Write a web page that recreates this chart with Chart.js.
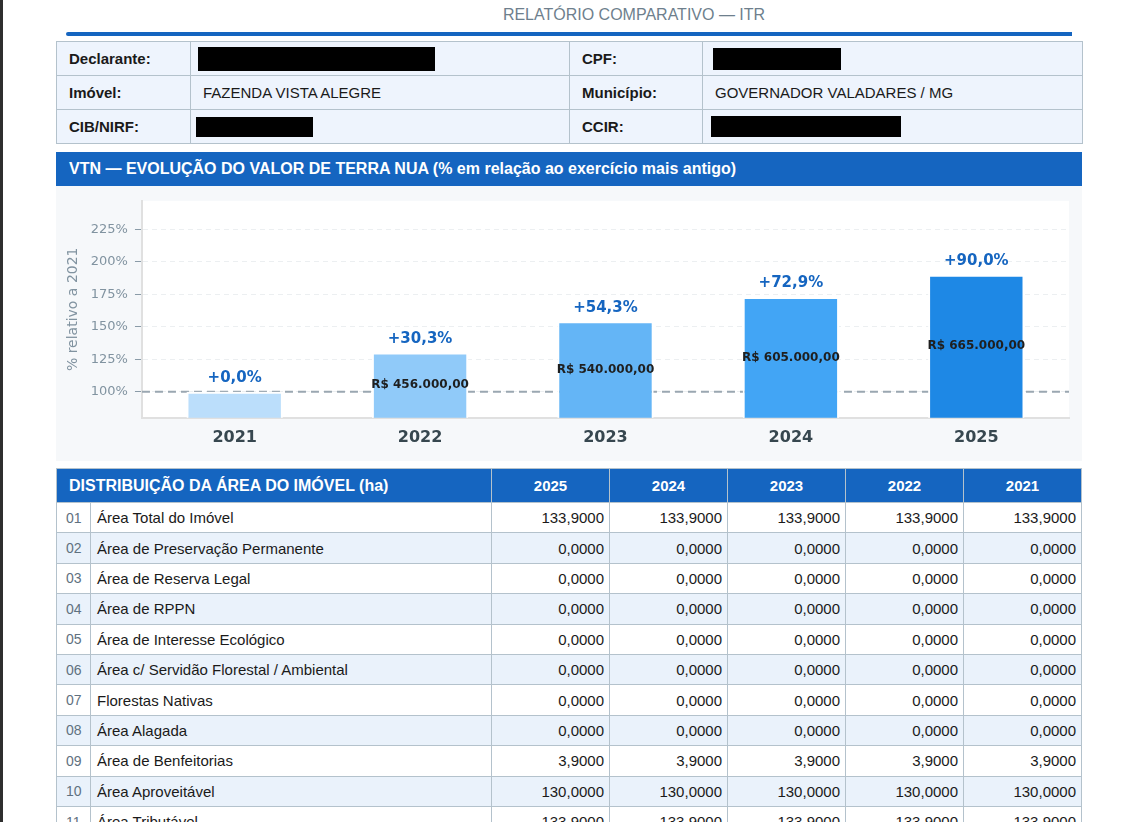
<!DOCTYPE html>
<html lang="pt-BR">
<head>
<meta charset="utf-8">
<script src="https://cdn.jsdelivr.net/npm/chart.js@4.4.1/dist/chart.umd.min.js"></script>
<style>
  html, body { margin:0; padding:0; background:#fff; overflow:hidden; width:1132px; height:822px; }
  body { position:relative; font-family:"Liberation Sans", Arial, sans-serif; color:#1a1a1a; }
  .strip { position:absolute; left:0; top:0; width:3px; height:822px; background:#2e2e2e; }
  .title { position:absolute; left:500px; top:6px; width:268px; text-align:center; font-size:16px; color:#6e7f8d; }
  .rule { position:absolute; left:66px; top:32px; width:1006px; height:4px; background:#1565c0; border-radius:2px 0 0 2px; }
  table { border-collapse:collapse; table-layout:fixed; }
  .info { position:absolute; left:56px; top:41px; width:1026px; }
  .info td { border:1px solid #b4c2cc; background:#eef4fd; font-size:15px; padding:0 12px; height:33px; }
  .info td.lbl { font-weight:bold; }
  .redact { display:inline-block; background:#000; vertical-align:middle; }
  .sec { position:absolute; left:56px; top:152px; width:1026px; height:34px; background:#1565c0; color:#fff;
         font-weight:bold; font-size:16px; line-height:34px; box-sizing:border-box; padding-left:13px; }
  .chartbox { position:absolute; left:56px; top:186px; width:1026px; height:275px; background:#f6f8fa; }
  .area { position:absolute; left:56px; top:468px; width:1026px; }
  .area th { background:#1565c0; color:#fff; font-weight:bold; font-size:15px; height:33px; border:1px solid #b4c2cc; text-align:center; padding:0; }
  .area th.t { text-align:left; font-size:16px; padding-left:12px; }
  .area td { border:1px solid #b4c2cc; font-size:15px; height:29.4px; padding:0 5px 0 6px; }
  .area td.n { color:#5f7180; font-size:14px; text-align:left; padding-left:9px; }
  .area td.v { text-align:right; }
  .area tr.alt td { background:#eaf2fb; }
</style>
</head>
<body>
<div class="strip"></div>
<div class="title">RELATÓRIO COMPARATIVO — ITR</div>
<div class="rule"></div>

<table class="info">
  <colgroup><col style="width:134px"><col style="width:379px"><col style="width:133px"><col style="width:380px"></colgroup>
  <tr><td class="lbl">Declarante:</td><td style="padding-left:7px"><span class="redact" style="width:237px;height:24px"></span></td>
      <td class="lbl">CPF:</td><td style="padding-left:10px"><span class="redact" style="width:128px;height:22px"></span></td></tr>
  <tr><td class="lbl">Imóvel:</td><td>FAZENDA VISTA ALEGRE</td>
      <td class="lbl">Município:</td><td>GOVERNADOR VALADARES / MG</td></tr>
  <tr><td class="lbl">CIB/NIRF:</td><td style="padding-left:5px"><span class="redact" style="width:117px;height:20px"></span></td>
      <td class="lbl">CCIR:</td><td style="padding-left:8px"><span class="redact" style="width:190px;height:21px"></span></td></tr>
</table>

<div class="sec">VTN — EVOLUÇÃO DO VALOR DE TERRA NUA (% em relação ao exercício mais antigo)</div>
<div class="chartbox"><canvas id="c" width="1026" height="275"></canvas></div>

<table class="area" id="area"></table>

<script>
// ---- chart data ----
const years = ['2021', '2022', '2023', '2024', '2025'];
const relValues = [100, 130.3, 154.3, 172.9, 190.0];          // % relativo a 2021
const changeLabels = ['+0,0%', '+30,3%', '+54,3%', '+72,9%', '+90,0%'];
const vtnLabels = ['R$ 350.000,00', 'R$ 456.000,00', 'R$ 540.000,00', 'R$ 605.000,00', 'R$ 665.000,00'];
const barColors = ['#bbdefb', '#90caf9', '#64b5f6', '#42a5f5', '#1e88e5'];
const yTicks = [100, 125, 150, 175, 200, 225];

// ---- table data ----
const tableYears = ['2025', '2024', '2023', '2022', '2021'];
const areaNames = ['Área Total do Imóvel', 'Área de Preservação Permanente', 'Área de Reserva Legal', 'Área de RPPN',
  'Área de Interesse Ecológico', 'Área c/ Servidão Florestal / Ambiental', 'Florestas Nativas', 'Área Alagada',
  'Área de Benfeitorias', 'Área Aproveitável', 'Área Tributável'];
const area2025 = ['133,9000','0,0000','0,0000','0,0000','0,0000','0,0000','0,0000','0,0000','3,9000','130,0000','133,9000'];
const area2024 = ['133,9000','0,0000','0,0000','0,0000','0,0000','0,0000','0,0000','0,0000','3,9000','130,0000','133,9000'];
const area2023 = ['133,9000','0,0000','0,0000','0,0000','0,0000','0,0000','0,0000','0,0000','3,9000','130,0000','133,9000'];
const area2022 = ['133,9000','0,0000','0,0000','0,0000','0,0000','0,0000','0,0000','0,0000','3,9000','130,0000','133,9000'];
const area2021 = ['133,9000','0,0000','0,0000','0,0000','0,0000','0,0000','0,0000','0,0000','3,9000','130,0000','133,9000'];

// build table
(function () {
  const t = document.getElementById('area');
  const cols = [area2025, area2024, area2023, area2022, area2021];
  let h = '<colgroup><col style="width:34px"><col style="width:401px">' +
          tableYears.map(() => '<col style="width:118px">').join('') + '</colgroup>';
  h += '<tr><th class="t" colspan="2">DISTRIBUIÇÃO DA ÁREA DO IMÓVEL (ha)</th>' +
       tableYears.map(y => '<th>' + y + '</th>').join('') + '</tr>';
  areaNames.forEach((name, i) => {
    h += '<tr' + (i % 2 ? ' class="alt"' : '') + '><td class="n">' + String(i + 1).padStart(2, '0') + '</td><td>' + name + '</td>' +
         cols.map(c => '<td class="v">' + c[i] + '</td>').join('') + '</tr>';
  });
  t.innerHTML = h;
})();

const FONT = "'DejaVu Sans', sans-serif";

const bgPlugin = {
  id: 'areaBg',
  beforeDraw(chart) {
    const { ctx, chartArea: a } = chart;
    ctx.save();
    ctx.fillStyle = '#ffffff';
    ctx.fillRect(a.left, a.top, a.right - a.left, a.bottom - a.top);
    ctx.restore();
  }
};

const baseLinePlugin = {
  id: 'baseLine',
  beforeDatasetsDraw(chart) {
    const { ctx, chartArea: a, scales } = chart;
    const y = scales.y.getPixelForValue(100);
    ctx.save();
    ctx.strokeStyle = '#9aa7b1';
    ctx.lineWidth = 2;
    ctx.setLineDash([8, 5]);
    ctx.beginPath();
    ctx.moveTo(a.left, y);
    ctx.lineTo(a.right, y);
    ctx.stroke();
    ctx.restore();
  }
};

const labelPlugin = {
  id: 'barLabels',
  afterDatasetsDraw(chart) {
    const { ctx, chartArea } = chart;
    const meta = chart.getDatasetMeta(0);
    ctx.save();
    ctx.textAlign = 'center';
    meta.data.forEach((bar, i) => {
      ctx.fillStyle = '#1565c0';
      ctx.font = 'bold 15px ' + FONT;
      ctx.textBaseline = 'bottom';
      ctx.fillText(changeLabels[i], bar.x, bar.y - 6);
      const bottom = Math.min(bar.base, chartArea.bottom);
      const hgt = bottom - bar.y;
      if (hgt > 40) {
        ctx.fillStyle = '#1f1f1f';
        ctx.font = 'bold 12px ' + FONT;
        ctx.textBaseline = 'middle';
        ctx.fillText(vtnLabels[i], bar.x, (bar.y + bottom) / 2);
      }
    });
    ctx.restore();
  }
};

new Chart(document.getElementById('c'), {
  type: 'bar',
  data: {
    labels: years,
    datasets: [{
      data: relValues,
      backgroundColor: barColors,
      borderColor: '#ffffff',
      borderWidth: 2,
      borderSkipped: 'start',
      barPercentage: 0.65,
      categoryPercentage: 0.8
    }]
  },
  plugins: [bgPlugin, baseLinePlugin, labelPlugin],
  options: {
    responsive: false,
    animation: false,
    devicePixelRatio: 1,
    layout: { padding: { left: 5, right: 13, top: 12, bottom: 4 } },
    plugins: { legend: { display: false }, tooltip: { enabled: false } },
    scales: {
      x: {
        grid: { display: false, drawTicks: false },
        border: { color: '#e0e0e0', width: 2 },
        ticks: { color: '#37474f', font: { family: FONT, size: 16, weight: 'bold' }, padding: 10 }
      },
      y: {
        min: 80,
        max: 247,
        afterBuildTicks(axis) { axis.ticks = yTicks.map(v => ({ value: v })); },
        grid: { color: '#eceff1', tickColor: '#8a9ba7', tickLength: 7, lineWidth: 1 },
        border: { color: '#e0e0e0', width: 2, dash: [5, 4] },
        ticks: { color: '#8193a0', font: { family: FONT, size: 13 }, padding: 7, callback: v => v + '%' },
        title: { display: true, text: '% relativo a 2021', color: '#8193a0', font: { family: FONT, size: 14 }, padding: { top: 4, bottom: 2 } }
      }
    }
  }
});
</script>
</body>
</html>
